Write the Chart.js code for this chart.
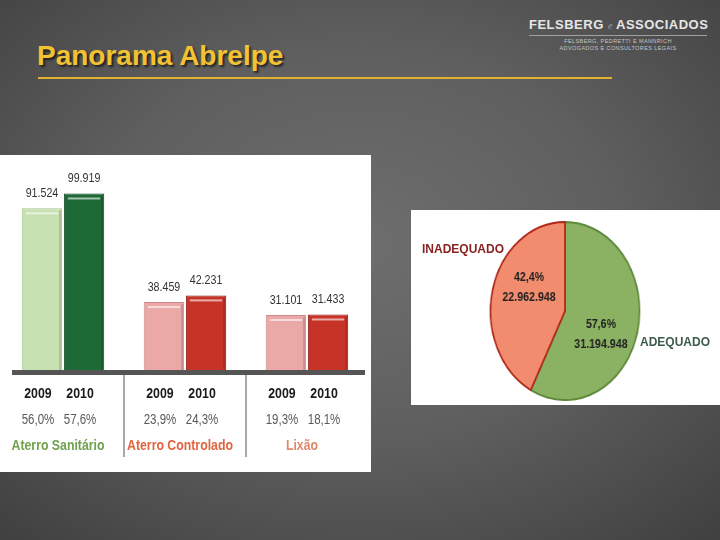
<!DOCTYPE html>
<html>
<head>
<meta charset="utf-8">
<script src="https://cdn.jsdelivr.net/npm/chart.js@4/dist/chart.umd.min.js"></script>
<style>
  html, body { margin: 0; padding: 0; }
  body {
    width: 720px; height: 540px; position: relative; overflow: hidden;
    background: radial-gradient(ellipse 80% 80% at 50% 45%, #6e6e6e 0%, #5f5f5f 45%, #3b3b3b 100%);
    font-family: "Liberation Sans", Arial, sans-serif;
  }
  #title {
    position: absolute; left: 37px; top: 42px; font-size: 28px; line-height: 27px;
    font-weight: bold; color: #f2c232; text-shadow: 2px 2px 2px rgba(0,0,0,0.6);
  }
  #titleRule { position: absolute; left: 38px; top: 77px; width: 574px; height: 2px; background: #e3b12f; }
  #logo { position: absolute; left: 529px; top: 17px; width: 178px; text-align: center; }
  #logo .brand { font-size: 13px; font-weight: bold; color: #e6e6e6; letter-spacing: 0.5px; line-height: 15px; white-space: nowrap; }
  #logo .brand i { font-family: "Liberation Serif", serif; font-weight: normal; font-size: 10px; color: #9a9a9a; letter-spacing: 0; }
  #logo .rule { height: 1px; background: #a0a0a0; margin: 2px 0 2px 0; }
  #logo .sub { font-size: 5.5px; line-height: 6.5px; color: #c4c4c4; letter-spacing: 0.4px; text-transform: uppercase; }
  #barPanel { position: absolute; left: 0; top: 155px; width: 371px; height: 317px; background: #fff; }
  #piePanel { position: absolute; left: 411px; top: 210px; width: 309px; height: 195px; background: #fff; }
  #pieChart { position: absolute; left: 64px; top: 11px; transform: scaleX(0.837); transform-origin: 90px 90px; }
  .pieName { position: absolute; font-size: 12px; font-weight: bold; line-height: 14px; }
</style>
</head>
<body>
<div id="title">Panorama Abrelpe</div>
<div id="titleRule"></div>
<div id="logo">
  <div class="brand">FELSBERG <i>e</i> ASSOCIADOS</div>
  <div class="rule"></div>
  <div class="sub">Felsberg, Pedretti e Mannrich</div>
  <div class="sub">Advogados e Consultores Legais</div>
</div>

<div id="barPanel"><canvas id="barChart" width="371" height="317"></canvas></div>
<div id="piePanel">
  <canvas id="pieChart" width="180" height="180"></canvas>
  <div class="pieName" id="nameInadequado" style="left:11px; top:32px; color:#8a2222;"></div>
  <div class="pieName" id="nameAdequado" style="left:229px; top:125px; color:#3d5b49;"></div>
</div>

<script>
// data
const categories = ["Aterro Sanitário", "Aterro Controlado", "Lixão"];
const years = ["2009", "2010"];
const values2009 = [91524, 38459, 31101];
const values2010 = [99919, 42231, 31433];
const shares2009 = ["56,0%", "23,9%", "19,3%"];
const shares2010 = ["57,6%", "24,3%", "18,1%"];

const pieLabels = ["ADEQUADO", "INADEQUADO"];
const pieValues = [31194948, 22962948];
const pieShares = ["57,6%", "42,4%"];

// colours
const fill2009 = ["#c8e1b1", "#eaa8a7", "#eaa8a7"];
const fill2010 = ["#1e6a36", "#c73427", "#c73427"];
const edge2009 = ["#a6c68e", "#cf8a89", "#cf8a89"];
const edge2010 = ["#0f4622", "#85170f", "#85170f"];
const categoryColors = ["#70a14f", "#e0643f", "#e2876a"];
const pieFill = ["#8ab262", "#f28c6e"];
const pieEdge = ["#5e8a3c", "#b0281a"];

const FONT = '"Liberation Sans", Arial, sans-serif';
const NARROW = 0.82; // no narrow face installed, so squeeze the regular one
const fmt = v => String(v).replace(/\B(?=(\d{3})+(?!\d))/g, ".");

// centred text, squeezed horizontally
function narrowText(ctx, text, x, y, font, color, sx) {
  ctx.save();
  ctx.translate(x, y);
  ctx.scale(sx, 1);
  ctx.font = font;
  ctx.fillStyle = color;
  ctx.textAlign = "center";
  ctx.textBaseline = "middle";
  ctx.fillText(text, 0, 0);
  ctx.restore();
}

document.getElementById("nameInadequado").textContent = pieLabels[1];
document.getElementById("nameAdequado").textContent = pieLabels[0];

const shares = [shares2009, shares2010];

// bar highlights, value labels, axis and the table under it
const barDecor = {
  id: "barDecor",
  afterDatasetsDraw(chart) {
    const ctx = chart.ctx;
    const area = chart.chartArea;
    ctx.save();
    chart.data.datasets.forEach((ds, di) => {
      chart.getDatasetMeta(di).data.forEach((bar, i) => {
        const left = bar.x - bar.width / 2;
        ctx.fillStyle = "rgba(255,255,255,0.6)";
        ctx.fillRect(left + 4, bar.y + 4, bar.width - 8, 2);
        ctx.fillStyle = "rgba(0,0,0,0.15)";
        ctx.fillRect(left + bar.width - 3, bar.y + 2, 2, bar.base - bar.y - 2);

        narrowText(ctx, fmt(ds.data[i]), bar.x, bar.y - 15, "13px " + FONT, "#333", NARROW);
        narrowText(ctx, years[di], bar.x - 4, area.bottom + 24, "bold 15px " + FONT, "#1a1a1a", NARROW);
        narrowText(ctx, shares[di][i], bar.x - 4, area.bottom + 50, "14px " + FONT, "#585858", NARROW);
      });
    });

    // axis
    ctx.fillStyle = "#555";
    ctx.fillRect(area.left + 10, area.bottom, area.width - 13, 5);

    const xs = chart.scales.x;
    categories.forEach((name, i) => {
      narrowText(ctx, name, xs.getPixelForValue(i) - 5, area.bottom + 76, "bold 15px " + FONT, categoryColors[i], NARROW);
      if (i > 0) {
        const sx = (xs.getPixelForValue(i - 1) + xs.getPixelForValue(i)) / 2;
        ctx.fillStyle = "#a8a8a8";
        ctx.fillRect(Math.round(sx) - 1, area.bottom + 5, 2, 82);
      }
    });
    ctx.restore();
  }
};

new Chart(document.getElementById("barChart"), {
  type: "bar",
  data: {
    labels: categories,
    datasets: [
      { label: years[0], data: values2009, backgroundColor: fill2009, borderColor: edge2009, borderWidth: 1 },
      { label: years[1], data: values2010, backgroundColor: fill2010, borderColor: edge2010, borderWidth: 1 }
    ]
  },
  options: {
    responsive: false,
    animation: false,
    layout: { padding: { top: 3, bottom: 102, left: 2, right: 3 } },
    datasets: { bar: { categoryPercentage: 0.69, barPercentage: 0.96 } },
    scales: {
      x: { display: false },
      y: { display: false, min: 0, max: 120000 }
    },
    plugins: { legend: { display: false }, tooltip: { enabled: false } }
  },
  plugins: [barDecor]
});

// pie canvas is squeezed sideways by CSS, so the labels are stretched back
const SQUEEZE = 0.837;
const pieText = {
  id: "pieText",
  afterDatasetsDraw(chart) {
    const ctx = chart.ctx;
    chart.getDatasetMeta(0).data.forEach((arc, i) => {
      const mid = (arc.startAngle + arc.endAngle) / 2 + 15 * Math.PI / 180;
      const r = arc.outerRadius * 0.55;
      const x = arc.x + Math.cos(mid) * r;
      const y = arc.y + Math.sin(mid) * r;
      narrowText(ctx, pieShares[i], x, y - 10, "bold 13px " + FONT, "#222", NARROW / SQUEEZE);
      narrowText(ctx, fmt(pieValues[i]), x, y + 10, "bold 13px " + FONT, "#222", NARROW / SQUEEZE);
    });
  }
};

new Chart(document.getElementById("pieChart"), {
  type: "pie",
  data: {
    labels: pieLabels,
    datasets: [{ data: pieValues, backgroundColor: pieFill, borderColor: pieEdge, borderWidth: 2 }]
  },
  options: {
    responsive: false,
    animation: false,
    plugins: { legend: { display: false }, tooltip: { enabled: false } }
  },
  plugins: [pieText]
});
</script>
</body>
</html>
